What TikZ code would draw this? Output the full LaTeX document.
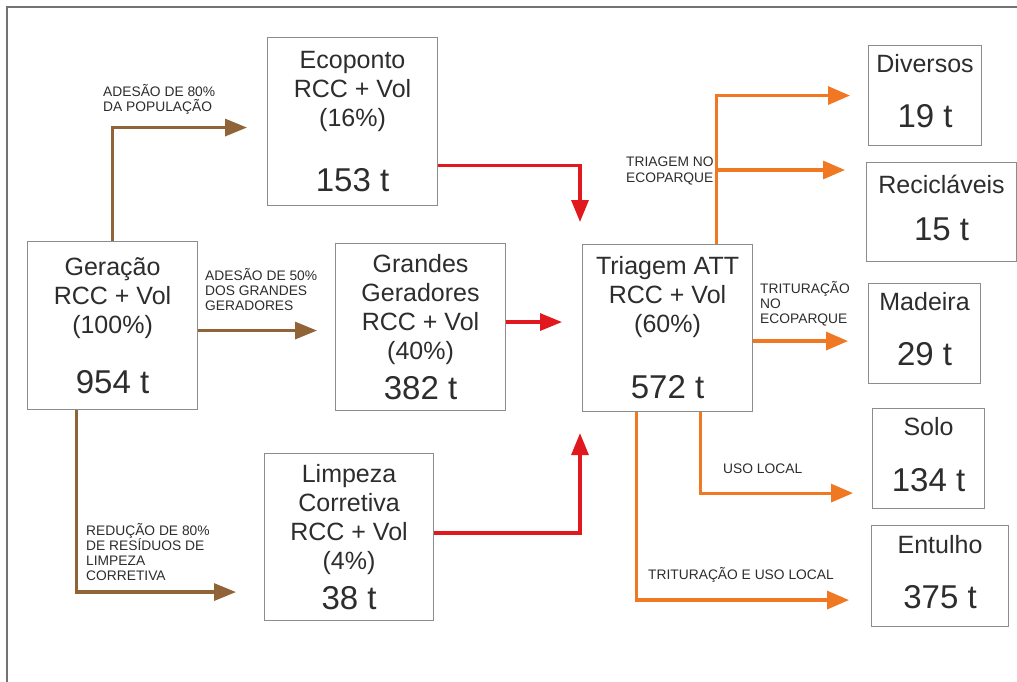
\documentclass[tikz,border=0pt]{standalone}
\usepackage{fontspec}
\setmainfont{Liberation Sans}
\usepackage{tikz}
\usetikzlibrary{arrows.meta}
\definecolor{mybrown}{RGB}{145,100,55}
\definecolor{myred}{RGB}{225,25,30}
\definecolor{myorange}{RGB}{240,120,35}
\definecolor{mygray}{RGB}{140,140,140}
\definecolor{mytext}{RGB}{45,45,45}
\newcommand{\tonfont}{\fontsize{33}{29}\selectfont}
\newcommand{\lowpad}{\rule[-9pt]{0pt}{9pt}}

\begin{document}
\begin{tikzpicture}[
  x=1pt, y=-1pt,
  every node/.style={text=mytext, inner sep=0pt},
  bigBox/.style={draw=mygray, line width=1.1pt, anchor=north west, align=center, font=\fontsize{25}{29}\selectfont},
  note/.style={anchor=base west, align=left, font=\fontsize{13.8}{15}\selectfont},
  brownArr/.style={-{Triangle[length=22pt,width=17pt]}, line width=3.2pt, mybrown},
  redArr/.style={-{Triangle[length=22pt,width=17pt]}, line width=3.2pt, myred},
  orangeArr/.style={-{Triangle[length=22pt,width=18pt]}, line width=3.2pt, myorange}
]
\useasboundingbox[fill=white] (0,0) rectangle (1017,682);
\draw[line width=1.5pt, black!55] (7,682) -- (7,7) -- (1017,7);

\node[bigBox, minimum width=170, minimum height=168] (gera) at (27,241) {Geração\\RCC + Vol\\(100\%)\\[31pt]\tonfont 954 t};
\node[bigBox, minimum width=170, minimum height=168] (eco) at (267,37) {Ecoponto\\RCC + Vol\\(16\%)\\[36pt]\tonfont 153 t};
\node[bigBox, minimum width=170, minimum height=167] (grand) at (335,243) {Grandes\\Geradores\\RCC + Vol\\(40\%)\\[11pt]\tonfont 382 t};
\node[bigBox, minimum width=169, minimum height=167] (limp) at (264,453) {Limpeza\\Corretiva\\RCC + Vol\\(4\%)\\[11pt]\tonfont 38 t};
\node[bigBox, minimum width=170, minimum height=167] (triag) at (582,244) {Triagem ATT\\RCC + Vol\\(60\%)\\[37pt]\tonfont 572 t};

\node[bigBox, minimum width=113, minimum height=100] (div) at (868,45) {Diversos\\[26pt]\tonfont 19 t\lowpad};
\node[bigBox, minimum width=150, minimum height=99] (recic) at (866,162) {Recicláveis\\[18pt]\tonfont 15 t\lowpad};
\node[bigBox, minimum width=112, minimum height=100] (mad) at (868,283) {Madeira\\[26pt]\tonfont 29 t\lowpad};
\node[bigBox, minimum width=112, minimum height=100] (solo) at (872,408) {Solo\\[27pt]\tonfont 134 t\lowpad};
\node[bigBox, minimum width=137, minimum height=101] (ent) at (871,525) {Entulho\\[26pt]\tonfont 375 t\lowpad};

\node[note] (lblPop) at (103,112) {ADESÃO DE 80\%\\DA POPULAÇÃO};
\node[note] (lblGrand) at (205,310) {ADESÃO DE 50\%\\DOS GRANDES\\GERADORES};
\node[note] (lblLimp) at (86,580) {REDUÇÃO DE 80\%\\DE RESÍDUOS DE\\LIMPEZA\\CORRETIVA};
\node[note] (lblTriag) at (626,182) {TRIAGEM NO\\ECOPARQUE};
\node[note] (lblTrit) at (760,323) {TRITURAÇÃO\\NO\\ECOPARQUE};
\node[note] (lblUso) at (723,473) {USO LOCAL};
\node[note] (lblTritUso) at (648,579) {TRITURAÇÃO E USO LOCAL};

\draw[brownArr, shorten >=20pt] (gera.north) |- ([yshift=-6pt]eco.west);
\draw[brownArr, shorten >=18pt] ([yshift=-5pt]gera.east) -- ([yshift=-5pt]gera.east -| grand.west);
\draw[brownArr, shorten >=28pt] ([xshift=-36pt]gera.south) |- ([yshift=-55pt]limp.west);
\draw[redArr, shorten >=22pt] ([yshift=-44pt]eco.east) -| ([xshift=-2pt]triag.north west);
\draw[redArr, shorten >=20pt] ([yshift=5pt]grand.east) -- ([yshift=5pt]grand.east -| triag.west);
\draw[redArr, shorten >=21pt] ([yshift=4pt]limp.east) -| ([xshift=-2pt]triag.south west);
\draw[orangeArr, shorten >=18pt] ([xshift=49pt]triag.north) |- (div.west);
\draw[orangeArr, shorten >=21pt] ([xshift=49pt]triag.north) |- ([yshift=-8pt]recic.north west);
\draw[orangeArr, shorten >=20pt] ([yshift=-13pt]triag.east) -- ([yshift=-13pt]triag.east -| mad.west);
\draw[orangeArr, shorten >=19pt] ([xshift=33pt]triag.south) |- ([yshift=16pt]solo.south west);
\draw[orangeArr, shorten >=22pt] ([xshift=-31pt]triag.south) |- ([yshift=-24pt]ent.west);
\end{tikzpicture}
\end{document}
